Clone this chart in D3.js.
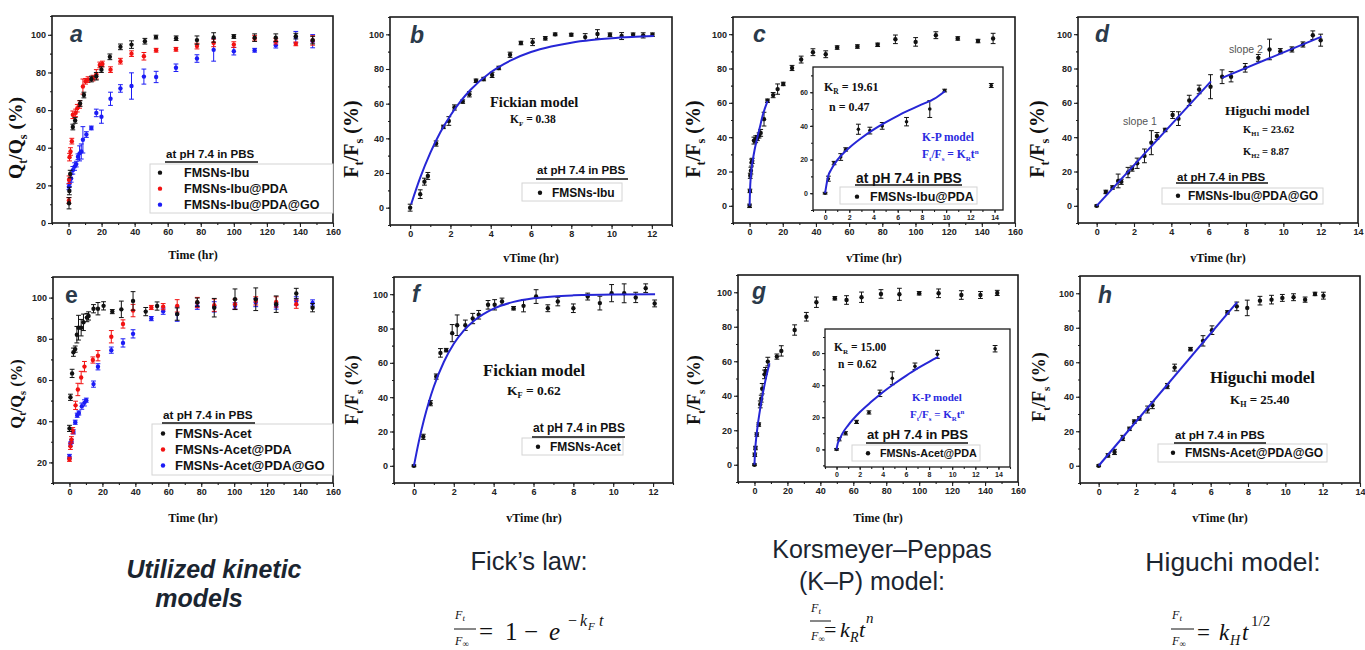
<!DOCTYPE html>
<html><head><meta charset="utf-8">
<script src="https://cdn.jsdelivr.net/npm/d3@7/dist/d3.min.js"></script>
<style>
body{margin:0;background:#fff;}
svg text{font-family:"Liberation Sans",Arial,sans-serif;}
.serif{font-family:"Liberation Serif","Times New Roman",serif !important;}
</style></head>
<body>
<script>
// ---------------- DATA ([x, y, error]) ----------------
const aIbu = [[0.3,10.5,3],[0.5,17,2],[1,26,2],[2.6,51,1.5],[4,54.5,1.5],[7,63.5,1.5],[9.3,68,1.5],[13.8,76.5,1.5],[16.8,78,2],[19.9,81.5,1.5],[25,88.3,1.5],[31.4,93.6,1.5],[38.1,94.8,2],[46.2,96.6,1.5],[52.9,98.8,1],[65.1,98.2,1.2],[77.7,97.2,2.2],[87.8,98.6,2.5],[100,99.1,1],[112.6,98.5,2],[125.4,98.5,2],[137.5,99.3,1.5],[147.7,97.2,2]];
const aIbuPDA = [[0.2,12,1.5],[0.3,23,2],[0.6,35,2],[1.2,38,2],[2,43.5,1.5],[2.6,57.5,2],[4.3,58.5,2],[5.3,61,2],[6.7,63,2],[8.7,72.5,4],[10.3,75.3,1.5],[11.8,76.2,1.5],[14.8,77,1.5],[16.8,79,2.5],[18.9,84,1.5],[20.5,84.5,1.5],[25.4,81.5,1.5],[31.4,86,1.5],[38.1,90,1.5],[45.6,88.6,2],[53,91.8,1],[65,92.3,1],[77.7,94,1.5],[87.8,95.7,2],[100,94.8,1.5],[112.6,98.2,1.5],[125.4,96.6,1.5],[137.5,95.2,1],[147.7,97,2.5]];
const aIbuPDAGO = [[0.2,19.2,1.5],[0.6,21,1.5],[1.6,23.7,2],[2.6,28,2],[3.7,30,2],[4.7,31.3,1.5],[5.7,35.2,1.5],[6.7,37,4],[7.7,38,4],[8.7,44.2,7],[10.8,47,1.5],[13.8,50.5,1],[16.8,58.5,2],[19.9,56.5,3.5],[25.4,66,3.5],[31.4,71.5,2],[38.1,72.8,7],[45.6,77.8,4],[53,77.6,3],[65,82.5,2],[77.7,87.4,2],[87.8,92,6],[100,91.3,2],[112.6,91.8,1],[125.4,94.5,1.5],[137.5,98.8,3],[147.7,96.6,3.5]];

const bX = [[0,0,2],[0.5,7.8,2.5],[0.71,15,2],[0.88,18.3,2],[1.29,37,1.5],[1.65,46.6,1],[1.92,50,2.5],[2.2,57.8,1.5],[2.61,61.2,1],[2.94,65.4,1.5],[3.27,73.2,1],[3.65,74.2,1],[4.07,76.6,1.5],[4.4,80.6,1],[4.96,88.2,1.5],[5.5,95,1],[6.08,95.5,2],[6.71,97.7,1],[7.2,100,0.8],[8,99.8,0.8],[8.69,98.4,2],[9.3,100.2,2.5],[9.92,99.8,1],[10.5,99,2],[11.07,99.8,1],[11.57,99.4,1.5],[12.03,99.8,1]];
const bFit = [[0.05,2],[0.5,17.3],[1,31.6],[1.5,43.5],[2,53.2],[2.5,61.3],[3,68],[4,78.1],[5,85],[6,89.8],[7,93],[8,95.2],[9,96.7],[10,97.8],[11,98.5],[12.1,99]];

const cX = [[0,0,1],[0.2,8.7,1],[0.4,17.5,1.5],[0.8,20.5,2],[1.2,25.2,2],[1.6,26.2,1.5],[2.6,38,2],[3.7,38.8,2],[4.7,39.5,1.5],[5.7,41,1.5],[6.7,42.5,2],[8.7,50.5,4],[10.8,61.2,1],[14.2,64.5,1.5],[16.9,68,3],[20.3,71,1],[25.6,80.3,1.5],[31.1,85.2,2],[38.2,89.5,2],[45.9,88.3,2],[52.8,92.2,1],[65,92.8,1],[77.2,93.8,1],[87.9,97,2.5],[100.1,95.5,2.5],[112.3,99.4,2],[125.5,97.5,1],[137.7,96,1],[146.8,97.5,3]];
const cFit = [[0,0],[0.3,10],[0.7,16.5],[1.2,21.5],[2,27],[3,32.5],[4.5,39],[6,45],[8,53],[10.8,61]];
const cIn = [[0,0,0.5],[0.27,8.6,1.5],[0.74,17.9,1],[1.29,21.5,2],[1.7,26,1],[2.75,38,3],[3.7,37.2,2],[4.72,40,2],[6.73,42.5,2.5],[8.65,50,5],[9.88,61,0.8],[13.73,64,1.2]];
const cInFit = [[0,0],[0.1,4.5],[0.25,10],[0.5,14],[1,19.6],[2,27],[3,32.8],[4,37.8],[5,42.1],[6,46],[7,49.5],[8,52.8],[9,56],[9.9,60.6]];

const dX = [[0,0,0.5],[0.49,8.1,1],[0.85,10.7,1],[1.15,14.5,4],[1.32,14,1.5],[1.68,19.4,3],[1.9,21.7,1.5],[2.17,24.8,3],[2.56,29.1,4],[2.93,36.8,7],[3.23,40.7,2],[3.67,44.2,1],[4.07,52.9,2],[4.38,50.8,4],[4.96,61.4,3],[5.49,67.8,2.5],[6.1,69.4,7],[6.72,75.2,4],[7.2,75.2,3],[7.96,80.4,2.5],[8.66,86.2,2],[9.26,91.1,6],[9.84,90.1,1.5],[10.46,91.1,1.5],[11.05,94,1.5],[11.58,99.4,2.5],[12,96.5,3.5]];
const dFit1 = [[0,0],[6.12,72.5]];
const dFit2 = [[6.72,74.5],[12.05,98.6]];

const eAcet = [[0,36.5,1.5],[0.6,51.6,1.5],[1.6,63.2,2],[2.4,73.5,2],[3.5,75,1.5],[4.5,82,4],[5.5,85.4,6],[7.1,85.4,4],[8.5,88,4],[10.6,90.3,2],[11.6,91.1,2],[14.6,94.6,2],[17.3,94.6,3],[20.7,96,2],[26,93.2,1],[31.5,94.3,4],[38.6,98.4,4.5],[46.3,93.2,2],[53.2,95.9,2],[65.4,92,3],[77.6,97.8,2],[87.9,95.1,4.5],[100.5,99.2,5],[113.1,99.2,5.5],[125.5,96.8,4],[137.7,102,2.5],[147.6,95.1,2]];
const eAcetPDA = [[0,21.5,1],[0.6,27.8,1.5],[1.2,31,1.5],[2,35.4,1.5],[3.7,47.7,2],[5.1,55.4,3],[7.1,61.2,3],[9.1,66.5,2.5],[14.2,69.7,1.5],[17.3,71.8,2.5],[25.4,81,3],[32.5,87.2,2],[38.6,93.7,3],[49.7,95.2,1],[56.9,95.6,1.5],[65.4,96,3],[77.6,97.6,2.5],[87.9,96.3,3],[100.5,96.8,2.5],[113.1,98.4,2],[125.5,97.9,2.5],[137.7,96.8,2]];
const eAcetPDAGO = [[0,22.9,1],[0.6,28.9,1],[1.2,30.2,1],[2.4,34.8,1],[3.5,39.5,1],[4.7,42.9,1],[5.7,44,1],[7.5,47.3,1.5],[9.1,48.9,1.5],[10.2,50.2,1],[14.6,58,1.5],[17.3,66.4,1.5],[25.4,74.5,1.5],[32.5,78,2],[38.6,82.4,2],[49.7,89.8,1],[56.9,93.4,1.5],[65.4,92,3.5],[77.6,95.8,1.5],[87.9,95.5,2.5],[100.5,96,1.5],[113.1,97.6,2],[125.5,95.9,1.5],[137.7,98.4,2],[147.6,97.4,1.5]];

const fX = [[0,0,0.5],[0.47,16.9,1.5],[0.83,36.5,1.5],[1.12,52,1.5],[1.33,65.8,2.5],[1.62,67.4,1],[1.92,77.3,5],[2.17,81.9,6],[2.58,81.9,3],[2.95,85.8,3],[3.25,88,2.5],[3.72,93.8,2.5],[4.05,93.8,3],[4.42,95.7,2],[5,91.8,1],[5.5,93.2,3.5],[6.13,98.6,4],[6.72,91.8,2],[7.22,95.7,2.5],[8,91.8,2.5],[8.72,98.6,2],[9.33,94.8,4],[9.92,100.6,5],[10.55,100.5,5.5],[11.13,98.1,3],[11.63,103.5,2.5],[12.08,94.6,2]];
const fFit = [[0,0],[0.25,14.4],[0.5,26.7],[0.75,37.2],[1,46.2],[1.5,60.5],[2,71.1],[2.5,78.8],[3,84.4],[4,91.6],[5,95.5],[6,97.6],[7,98.7],[8,99.3],[10,99.8],[12.1,99.9]];

const gX = [[0,0,0.5],[0.2,5.8,1],[0.6,9.7,1],[1.4,17.5,1],[2.6,23.3,1],[3.5,35,2],[4.1,38.3,2],[4.7,44.1,3],[6.1,52.4,2.5],[6.7,54.4,2],[8.1,59.8,2.5],[13.6,62.7,1.5],[16.3,66,3],[24.4,78.1,3],[31.5,85.8,2.5],[37.6,94.2,3],[48.8,96.5,1],[55.9,95.5,2.5],[65,97.1,3],[76.8,99,2.5],[88,98.8,3.5],[100,99.4,1],[111.8,99.4,2.5],[125.6,98.4,2.5],[137.2,98.4,2],[147.4,99.6,1.5]];
const gFit = [[0,0],[0.3,7],[0.6,10.9],[1,15],[2,23.1],[3,29.6],[4,35.6],[5,41],[6,45.8],[7,50.4],[8,54.5],[9.1,58.8]];
const gIn = [[0,0,0.5],[0.23,6.3,1],[0.78,10,1],[1.73,17.1,1],[2.8,23,1],[3.75,34.9,2],[4.82,44.3,4],[6.78,51.8,2],[8.72,59.2,2.5],[13.71,62.7,2]];
const gInFit = [[0,0],[0.1,3.6],[0.25,6],[0.5,9.8],[1,15],[2,23.1],[3,29.6],[4,35.6],[5,40.9],[6,45.8],[7,50.4],[8,54.5],[8.8,57.6]];

const hX = [[0,0,0.5],[0.5,6,1],[0.85,8,1.5],[1.29,16.1,1.5],[1.65,21.4,1],[1.91,25.6,1],[2.18,27.4,1],[2.62,32.6,2],[2.88,35.1,2],[3.68,46.2,1.5],[4.07,56.9,2],[4.92,67.6,1],[5.59,72.4,3],[6.07,78.6,2.5],[6.9,88.9,1],[7.4,92.4,2.5],[7.96,91.5,4.5],[8.64,95.7,2.5],[9.26,96.3,2.5],[9.84,97.3,2],[10.44,97.7,2],[11.06,96.3,1.5],[11.59,99.6,1],[12.04,98.6,2]];
const hFit = [[0,0],[7.42,94.8]];

const timeTicks = [0,20,40,60,80,100,120,140,160];
const rootTicks = [0,2,4,6,8,10,12];
const rootTicks14 = [0,2,4,6,8,10,12,14];
const pctTicks = [0,20,40,60,80,100];
const pctTicksE = [20,40,60,80,100];
const insetYTicks = [0,20,40,60];

// ---------------- DRAWING ----------------
const W = 1365, H = 650;
const svg = d3.select("body").append("svg").attr("width", W).attr("height", H);
const RED = "#f21212", BLUE = "#1c1cf5", BLACK = "#111", FIT = "#2626d6";

function range(a, b, s) { const r = []; for (let v = a; v <= b + 1e-9; v += s) r.push(+v.toFixed(6)); return r; }

function panel(o) {
  const g = svg.append("g");
  const x = d3.scaleLinear().domain(o.xd).range([o.x0, o.x1]);
  const y = d3.scaleLinear().domain(o.yd).range([o.y1, o.y0]);
  const fs = o.tfs || 9;
  const xa2 = d3.axisBottom(x).tickValues(o.xminor).tickSize(2).tickFormat("");
  const ya2 = d3.axisLeft(y).tickValues(o.yminor).tickSize(2).tickFormat("");
  g.append("g").attr("transform", `translate(0,${o.y1})`).call(xa2);
  g.append("g").attr("transform", `translate(${o.x0},0)`).call(ya2);
  const xa = d3.axisBottom(x).tickValues(o.xt).tickSize(o.tl || 4).tickPadding(2).tickFormat(d3.format("d"));
  const ya = d3.axisLeft(y).tickValues(o.yt).tickSize(o.tl || 4).tickPadding(2).tickFormat(d3.format("d"));
  g.append("g").attr("transform", `translate(0,${o.y1})`).call(xa);
  g.append("g").attr("transform", `translate(${o.x0},0)`).call(ya);
  g.selectAll(".domain").remove();
  g.selectAll(".tick line").attr("stroke", "#222").attr("stroke-width", 1.1);
  g.selectAll(".tick text").attr("font-size", fs).attr("font-weight", "bold").attr("fill", "#222")
    .style("font-family", "'Liberation Sans',Arial,sans-serif");
  g.append("rect").attr("x", o.x0).attr("y", o.y0).attr("width", o.x1 - o.x0).attr("height", o.y1 - o.y0)
    .attr("fill", o.fill || "none").attr("stroke", "#1a1a1a").attr("stroke-width", o.sw || 1.6);
  return { g, x, y };
}

function series(p, data, color, r) {
  const cap = 2.4;
  const gg = p.g.append("g");
  data.forEach(d => {
    const cx = p.x(d[0]), cy = p.y(d[1]);
    if (d[2] > 0) {
      const yt = p.y(d[1] + d[2]), yb = p.y(d[1] - d[2]);
      gg.append("line").attr("x1", cx).attr("x2", cx).attr("y1", yt).attr("y2", yb).attr("stroke", color).attr("stroke-width", 1);
      gg.append("line").attr("x1", cx - cap).attr("x2", cx + cap).attr("y1", yt).attr("y2", yt).attr("stroke", color).attr("stroke-width", 1);
      gg.append("line").attr("x1", cx - cap).attr("x2", cx + cap).attr("y1", yb).attr("y2", yb).attr("stroke", color).attr("stroke-width", 1);
    }
    gg.append("circle").attr("cx", cx).attr("cy", cy).attr("r", r || 2.2).attr("fill", color);
  });
}

function fit(p, data, curve) {
  const line = d3.line().x(d => p.x(d[0])).y(d => p.y(d[1])).curve(curve || d3.curveLinear);
  p.g.append("path").attr("d", line(data)).attr("fill", "none").attr("stroke", FIT).attr("stroke-width", 2);
}

// text with sub/superscripts, no empty tspans
function rich(t, parts, fs) {
  let off = 0;
  parts.forEach(p => {
    let target = 0, size = fs, s = p;
    if (typeof p !== "string") { target = p.sup ? -fs * 0.38 : fs * 0.25; size = fs * 0.62; s = p.s; }
    const ts = t.append("tspan").attr("font-size", size).text(s);
    if (target - off !== 0) ts.attr("dy", target - off);
    off = target;
  });
}

function ytitle(x, yc, main, sub1, mid, sub2, fs) {
  const t = svg.append("text").attr("class", "serif").attr("transform", `translate(${x},${yc}) rotate(-90)`)
    .attr("text-anchor", "middle").attr("font-size", fs).attr("font-weight", "bold").attr("fill", "#111");
  rich(t, [main, { s: sub1 }, mid, { s: sub2 }, " (%)"], fs);
}

function xtitle(xc, yb, label) {
  svg.append("text").attr("class", "serif").attr("x", xc).attr("y", yb).attr("text-anchor", "middle")
    .attr("font-size", 12).attr("font-weight", "bold").attr("fill", "#111").text(label);
}

function plabel(x, yb, ch, italic) {
  svg.append("text").attr("x", x).attr("y", yb).attr("font-size", 23).attr("font-weight", "bold")
    .attr("font-style", italic ? "italic" : "normal").attr("fill", "#2b3a4a").text(ch);
}

function legend(o) {
  svg.append("rect").attr("x", o.box[0]).attr("y", o.box[1]).attr("width", o.box[2] - o.box[0]).attr("height", o.box[3] - o.box[1])
    .attr("fill", "#fff").attr("stroke", "#d4d4d4").attr("stroke-width", 1);
  svg.append("text").attr("x", o.tx).attr("y", o.ty).attr("font-size", o.tfs).attr("font-weight", "bold").attr("fill", "#111").text("at pH 7.4 in PBS");
  svg.append("line").attr("x1", o.ul[0]).attr("x2", o.ul[1]).attr("y1", o.ul[2]).attr("y2", o.ul[2]).attr("stroke", "#111").attr("stroke-width", 1.4);
  o.items.forEach(it => {
    svg.append("circle").attr("cx", o.mx).attr("cy", it.y - o.ifs * 0.35).attr("r", 2.2).attr("fill", it.c);
    svg.append("text").attr("x", o.ix).attr("y", it.y).attr("font-size", o.ifs).attr("font-weight", "bold").attr("fill", "#111").text(it.t);
  });
}

function stext(x, yb, parts, fs, color) {
  const t = svg.append("text").attr("class", "serif").attr("x", x).attr("y", yb).attr("font-size", fs)
    .attr("font-weight", "bold").attr("fill", color || "#111");
  rich(t, parts, fs);
  return t;
}

// ---------- Panel a ----------
{
  const p = panel({ x0: 52, x1: 333, y0: 16, y1: 223, xd: [-10, 160], yd: [0, 110], xt: timeTicks, xminor: range(-10, 150, 10), yt: pctTicks, yminor: range(10, 110, 10) });
  series(p, aIbuPDAGO, BLUE); series(p, aIbuPDA, RED); series(p, aIbu, BLACK);
  legend({ box: [150, 164, 333, 213], tx: 166, ty: 158, tfs: 11.5, ul: [165, 258, 162], mx: 160, ix: 184, ifs: 12.5,
    items: [{ c: BLACK, t: "FMSNs-Ibu", y: 177 }, { c: RED, t: "FMSNs-Ibu@PDA", y: 193 }, { c: BLUE, t: "FMSNs-Ibu@PDA@GO", y: 209 }] });
  plabel(70, 42, "a", true);
  ytitle(22, 138, "Q", "t", "/Q", "s", 19.5);
  xtitle(193, 259, "Time (hr)");
}
// ---------- Panel b ----------
{
  const p = panel({ x0: 390, x1: 672, y0: 17, y1: 225, xd: [-1, 13], yd: [-10, 110], xt: rootTicks, xminor: range(-1, 13, 1), yt: pctTicks, yminor: range(-10, 110, 10) });
  series(p, bX, BLACK);
  fit(p, bFit, d3.curveMonotoneX);
  legend({ box: [522, 183, 622, 201], tx: 537, ty: 174, tfs: 11.5, ul: [536, 628, 179], mx: 540, ix: 552, ifs: 12,
    items: [{ c: BLACK, t: "FMSNs-Ibu", y: 197 }] });
  stext(490, 107, ["Fickian model"], 14.5);
  stext(510, 123, ["K", { s: "F" }, " = 0.38"], 11.5);
  plabel(410, 43, "b", true);
  ytitle(358, 139, "F", "t", "/F", "s", 20);
  xtitle(531, 262, "vTime (hr)");
}
// ---------- Panel c ----------
{
  const p = panel({ x0: 733, x1: 1015, y0: 17, y1: 223, xd: [-10, 160], yd: [-10, 110], xt: timeTicks, xminor: range(-10, 150, 10), yt: pctTicks, yminor: range(-10, 110, 10) });
  series(p, cX, BLACK);
  fit(p, cFit, d3.curveMonotoneX);
  const q = panel({ x0: 813, x1: 1003, y0: 67, y1: 210, xd: [-1, 14.7], yd: [-10, 75], xt: rootTicks14, xminor: range(-1, 14, 1), yt: insetYTicks, yminor: range(-10, 70, 10), tfs: 7, tl: 3, sw: 1.3, fill: "#fff" });
  series(q, cIn, BLACK, 1.8);
  fit(q, cInFit, d3.curveMonotoneX);
  stext(824, 91, ["K", { s: "R" }, " = 19.61"], 12);
  stext(829, 111, ["n = 0.47"], 12);
  stext(922, 141, ["K-P model"], 11.5, "#2a2ae0");
  stext(922, 158, ["F", { s: "t" }, "/F", { s: "s" }, " = K", { s: "R" }, "t", { s: "n", sup: true }], 11.5, "#2a2ae0");
  legend({ box: [840, 187, 977, 204], tx: 856, ty: 183, tfs: 13.8, ul: [855, 962, 185], mx: 857, ix: 870, ifs: 12.5,
    items: [{ c: BLACK, t: "FMSNs-Ibu@PDA", y: 201 }] });
  plabel(753, 42, "c", true);
  ytitle(700, 139, "F", "t", "/F", "s", 20);
  xtitle(874, 262, "vTime (hr)");
}
// ---------- Panel d ----------
{
  const p = panel({ x0: 1078, x1: 1358, y0: 17, y1: 223, xd: [-1, 14], yd: [-10, 110], xt: rootTicks14, xminor: range(-1, 13, 1), yt: pctTicks, yminor: range(-10, 110, 10) });
  series(p, dX, BLACK);
  fit(p, dFit1); fit(p, dFit2);
  svg.append("text").attr("x", 1229).attr("y", 53).attr("font-size", 10.5).attr("fill", "#555").text("slope 2");
  svg.append("text").attr("x", 1123).attr("y", 125).attr("font-size", 10.5).attr("fill", "#555").text("slope 1");
  stext(1225, 115, ["Higuchi model"], 13.5);
  stext(1243, 133, ["K", { s: "H1" }, " = 23.62"], 10.5);
  stext(1243, 155, ["K", { s: "H2" }, " = 8.87"], 10.5);
  legend({ box: [1162, 188, 1323, 204], tx: 1177, ty: 181, tfs: 11.5, ul: [1176, 1268, 183], mx: 1178, ix: 1188, ifs: 12,
    items: [{ c: BLACK, t: "FMSNs-Ibu@PDA@GO", y: 200 }] });
  plabel(1095, 42, "d", true);
  ytitle(1044, 139, "F", "t", "/F", "s", 20);
  xtitle(1218, 262, "vTime (hr)");
}
// ---------- Panel e ----------
{
  const p = panel({ x0: 53, x1: 333, y0: 277, y1: 483, xd: [-10, 160], yd: [10, 110], xt: timeTicks, xminor: range(-10, 150, 10), yt: pctTicksE, yminor: range(10, 110, 10) });
  series(p, eAcetPDAGO, BLUE); series(p, eAcetPDA, RED); series(p, eAcet, BLACK);
  legend({ box: [152, 424, 333, 475], tx: 163, ty: 419, tfs: 11.7, ul: [162, 255, 423], mx: 163, ix: 175, ifs: 13,
    items: [{ c: BLACK, t: "FMSNs-Acet", y: 438 }, { c: RED, t: "FMSNs-Acet@PDA", y: 454 }, { c: BLUE, t: "FMSNs-Acet@PDA@GO", y: 470 }] });
  plabel(65, 303, "e", false);
  ytitle(22, 394, "Q", "t", "/Q", "s", 16.5);
  xtitle(193, 522, "Time (hr)");
}
// ---------- Panel f ----------
{
  const p = panel({ x0: 394, x1: 673, y0: 277, y1: 483, xd: [-1, 13], yd: [-10, 110], xt: rootTicks, xminor: range(-1, 13, 1), yt: pctTicks, yminor: range(-10, 110, 10) });
  series(p, fX, BLACK);
  fit(p, fFit, d3.curveMonotoneX);
  stext(483, 376, ["Fickian model"], 16.8);
  stext(507, 395, ["K", { s: "F" }, " = 0.62"], 13.5);
  legend({ box: [522, 438, 623, 455], tx: 533, ty: 432, tfs: 12, ul: [532, 625, 437], mx: 538, ix: 550, ifs: 12,
    items: [{ c: BLACK, t: "FMSNs-Acet", y: 451 }] });
  plabel(412, 302, "f", true);
  ytitle(358, 390, "F", "t", "/F", "s", 18);
  xtitle(534, 522, "vTime (hr)");
}
// ---------- Panel g ----------
{
  const p = panel({ x0: 738, x1: 1018, y0: 275, y1: 482, xd: [-10, 160], yd: [-10, 110], xt: timeTicks, xminor: range(-10, 150, 10), yt: pctTicks, yminor: range(-10, 110, 10) });
  series(p, gX, BLACK);
  fit(p, gFit, d3.curveMonotoneX);
  const q = panel({ x0: 825, x1: 1010, y0: 329, y1: 467, xd: [-1, 15], yd: [-11, 75], xt: rootTicks14, xminor: range(-1, 15, 1), yt: insetYTicks, yminor: range(-10, 70, 10), tfs: 7, tl: 3, sw: 1.3, fill: "#fff" });
  series(q, gIn, BLACK, 1.8);
  fit(q, gInFit, d3.curveMonotoneX);
  stext(834, 351, ["K", { s: "R" }, " = 15.00"], 11.5);
  stext(838, 368, ["n = 0.62"], 11.5);
  stext(912, 401, ["K-P model"], 11, "#2a2ae0");
  stext(910, 418, ["F", { s: "t" }, "/F", { s: "s" }, " = K", { s: "R" }, "t", { s: "n", sup: true }], 11, "#2a2ae0");
  legend({ box: [852, 445, 980, 461], tx: 867, ty: 439, tfs: 13.2, ul: [866, 968, 443], mx: 868, ix: 880, ifs: 10.8,
    items: [{ c: BLACK, t: "FMSNs-Acet@PDA", y: 457 }] });
  plabel(752, 299, "g", true);
  ytitle(700, 390, "F", "t", "/F", "s", 18);
  xtitle(878, 522, "Time (hr)");
}
// ---------- Panel h ----------
{
  const p = panel({ x0: 1080, x1: 1360, y0: 276, y1: 483, xd: [-1, 14], yd: [-10, 110], xt: rootTicks14, xminor: range(-1, 13, 1), yt: pctTicks, yminor: range(-10, 110, 10) });
  series(p, hX, BLACK);
  fit(p, hFit);
  stext(1210, 383, ["Higuchi model"], 16.8);
  stext(1230, 404, ["K", { s: "H" }, " = 25.40"], 13);
  legend({ box: [1158, 444, 1327, 462], tx: 1175, ty: 439, tfs: 11.7, ul: [1174, 1266, 443], mx: 1173, ix: 1185, ifs: 12,
    items: [{ c: BLACK, t: "FMSNs-Acet@PDA@GO", y: 457 }] });
  plabel(1098, 303, "h", true);
  ytitle(1045, 387, "F", "t", "/F", "s", 18);
  xtitle(1220, 522, "vTime (hr)");
}

// ---------- Bottom captions ----------
function cap(x, yb, s, fs, italic, bold) {
  svg.append("text").attr("x", x).attr("y", yb).attr("font-size", fs).attr("font-style", italic ? "italic" : "normal")
    .attr("font-weight", bold ? "bold" : "normal").attr("text-anchor", "middle").attr("fill", "#1b2530").text(s);
}
cap(214, 578, "Utilized kinetic", 25, true, true);
cap(199, 607, "models", 25, true, true);
cap(529, 570, "Fick\u2019s law:", 25.5, false, false);
cap(882, 558, "Korsmeyer\u2013Peppas", 25, false, false);
cap(872, 590, "(K\u2013P) model:", 25, false, false);
cap(1233, 571, "Higuchi model:", 26.5, false, false);

// math pieces placed individually
function m(x, y, s, fs, italic) {
  svg.append("text").attr("class", "serif").attr("x", x).attr("y", y).attr("font-size", fs)
    .attr("font-style", italic ? "italic" : "normal").attr("fill", "#111").text(s);
}
function frac(x, yNum, yLine, yDen, w) {
  m(x, yNum, "F", 12, true); m(x + 7.5, yNum + 2, "t", 9, true);
  svg.append("line").attr("x1", x - 1).attr("x2", x + w).attr("y1", yLine).attr("y2", yLine).attr("stroke", "#111").attr("stroke-width", 1);
  m(x, yDen, "F", 12, true); m(x + 7.5, yDen + 1.5, "\u221E", 9, false);
}
// Fick
frac(455, 619, 629, 645, 21);
m(479, 640, "=", 25, false); m(505, 640, "1", 25, false); m(524, 640, "\u2212", 25, false); m(549, 640, "e", 25, true);
m(568, 626, "\u2212", 16, false); m(580, 626, "k", 16, true); m(588, 630, "F", 11, true); m(599, 626, "t", 16, true);
// K-P
frac(811, 612, 621, 640, 20);
m(824, 637, "=", 22, false); m(840, 637, "k", 22, true); m(850, 642, "R", 14, true); m(859, 637, "t", 22, true); m(866, 623, "n", 15, true);
// Higuchi
frac(1172, 619, 629, 645, 22);
m(1197, 640, "=", 23, false); m(1219, 640, "k", 23, true); m(1230, 645, "H", 14, true); m(1242, 640, "t", 23, true); m(1251, 626, "1/2", 15, false);
</script>
</body></html>
